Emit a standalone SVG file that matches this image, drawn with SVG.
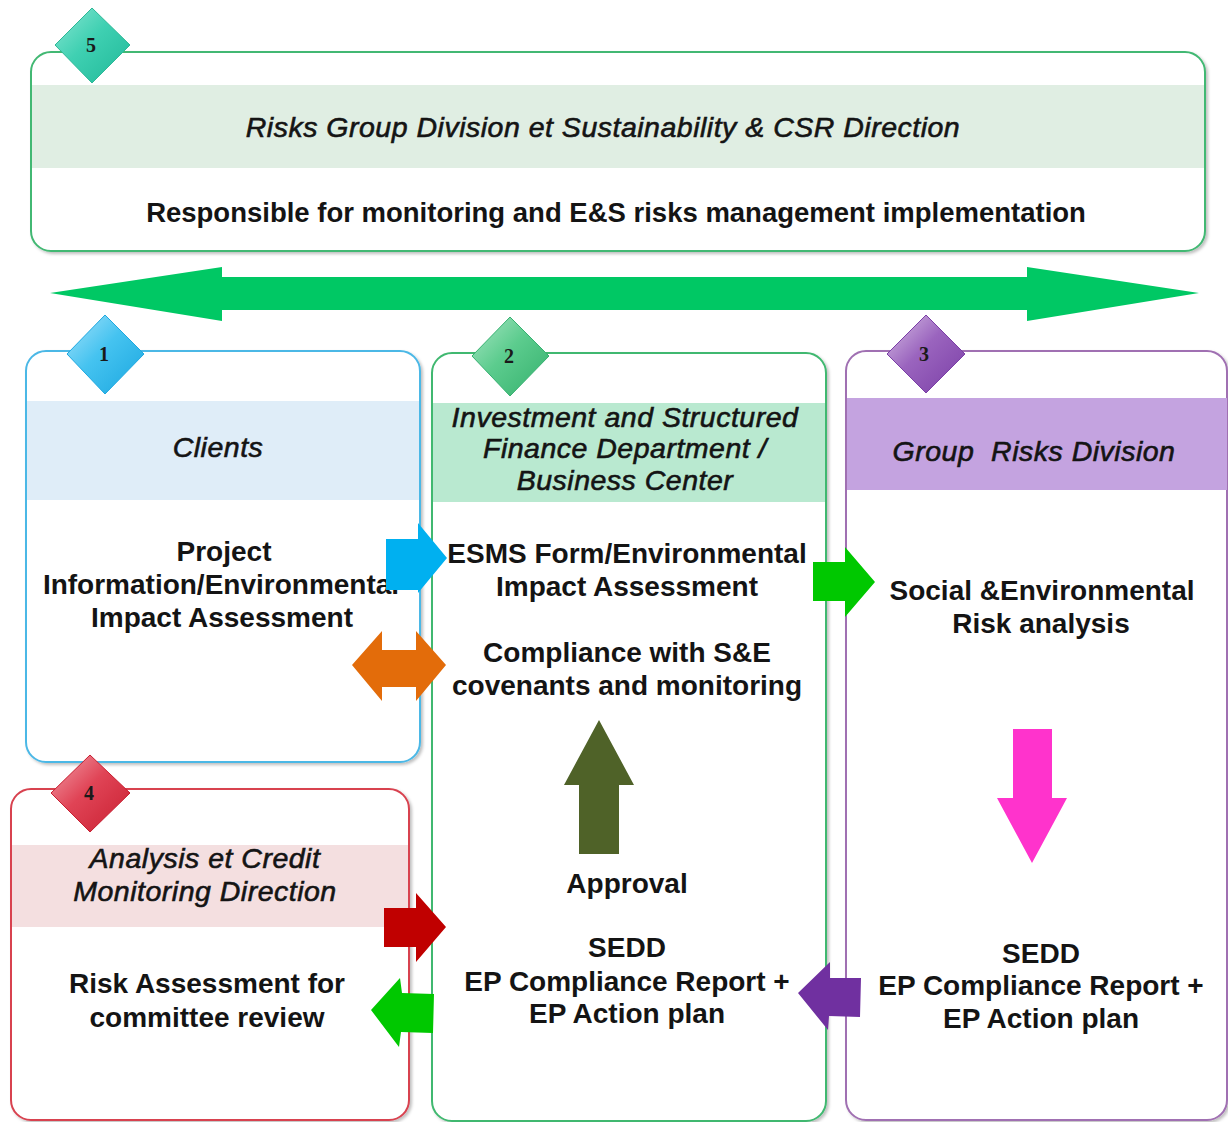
<svg xmlns="http://www.w3.org/2000/svg" width="1228" height="1122" viewBox="0 0 1228 1122">
<defs>
<style>
.box{fill:#fff;stroke-width:2;filter:url(#sh)}
.hd{font-family:"Liberation Sans",Arial,sans-serif;font-style:italic;font-size:28.5px;fill:#141414;stroke:#141414;stroke-width:0.6px;letter-spacing:0.5px;text-anchor:middle}
.bd{font-family:"Liberation Sans",Arial,sans-serif;font-weight:bold;font-size:28px;fill:#141414;text-anchor:middle}
.num{font-family:"Liberation Serif","Times New Roman",serif;font-weight:bold;font-size:20px;fill:#1a1a1a;text-anchor:middle}
.dm{stroke-width:1}
</style>
<filter id="sh" x="-5%" y="-5%" width="110%" height="110%">
<feDropShadow dx="2" dy="2" stdDeviation="1.5" flood-color="#000" flood-opacity="0.25"/>
</filter>
<linearGradient id="g5" x1="0" y1="0" x2="1" y2="1"><stop offset="0" stop-color="#8ae6d2"/><stop offset="0.45" stop-color="#3fd0b2"/><stop offset="1" stop-color="#1fb898"/></linearGradient>
<linearGradient id="g1" x1="0" y1="0" x2="1" y2="1"><stop offset="0" stop-color="#a6e2fa"/><stop offset="0.45" stop-color="#45c3f0"/><stop offset="1" stop-color="#1aa6df"/></linearGradient>
<linearGradient id="g2" x1="0" y1="0" x2="1" y2="1"><stop offset="0" stop-color="#a8e6c4"/><stop offset="0.45" stop-color="#5ccc8e"/><stop offset="1" stop-color="#34b06c"/></linearGradient>
<linearGradient id="g3" x1="0" y1="0" x2="1" y2="1"><stop offset="0" stop-color="#d9c2e6"/><stop offset="0.45" stop-color="#9a64be"/><stop offset="1" stop-color="#7a3ea6"/></linearGradient>
<linearGradient id="g4" x1="0" y1="0" x2="1" y2="1"><stop offset="0" stop-color="#f2a0aa"/><stop offset="0.45" stop-color="#e04456"/><stop offset="1" stop-color="#c81e30"/></linearGradient>
</defs>
<rect width="1228" height="1122" fill="#fff"/>

<g id="node5">
<rect class="box" x="31" y="52" width="1174" height="199" rx="20" stroke="#42b873"/>
<rect x="32" y="85" width="1172" height="83" fill="#e0eee3"/>
<text class="hd" x="603" y="137">Risks Group Division et Sustainability &amp; CSR Direction</text>
<text class="bd" x="616" y="222" style="font-size:27.5px">Responsible for monitoring and E&amp;S risks management implementation</text>
<polygon class="dm" points="92,8 130,45 92,83 55,45" fill="url(#g5)" stroke="#2cb896"/>
<text class="num" x="91" y="52">5</text>
</g>

<g id="node1">
<rect class="box" x="26" y="351" width="394" height="411" rx="20" stroke="#4cb8e6"/>
<rect x="27" y="401" width="392" height="99" fill="#dfedf8"/>
<text class="hd" x="218" y="457">Clients</text>
<text class="bd" x="224" y="561">Project</text>
<text class="bd" x="221" y="594">Information/Environmental</text>
<text class="bd" x="222" y="627">Impact Assessment</text>
<polygon class="dm" points="105,315 144,354 105,394 67,354" fill="url(#g1)" stroke="#1ea8e0"/>
<text class="num" x="104" y="361">1</text>
</g>

<g id="node2">
<rect class="box" x="432" y="353" width="394" height="768" rx="20" stroke="#40b870"/>
<rect x="433" y="403" width="392" height="99" fill="#b9e9d0"/>
<text class="hd" x="625" y="427">Investment and Structured</text>
<text class="hd" x="625" y="458">Finance Department /</text>
<text class="hd" x="625" y="490">Business Center</text>
<text class="bd" x="627" y="563">ESMS Form/Environmental</text>
<text class="bd" x="627" y="596">Impact Assessment</text>
<text class="bd" x="627" y="662">Compliance with S&amp;E</text>
<text class="bd" x="627" y="695">covenants and monitoring</text>
<text class="bd" x="627" y="893">Approval</text>
<text class="bd" x="627" y="957">SEDD</text>
<text class="bd" x="627" y="991">EP Compliance Report +</text>
<text class="bd" x="627" y="1023">EP Action plan</text>
<polygon class="dm" points="510,317 549,356 510,396 472,356" fill="url(#g2)" stroke="#36b070"/>
<text class="num" x="509" y="363">2</text>
</g>

<g id="node3">
<rect class="box" x="846" y="351" width="381" height="769" rx="20" stroke="#a070b2"/>
<rect x="847" y="398" width="380" height="92" fill="#c4a3e0"/>
<text class="hd" x="1034" y="461" xml:space="preserve">Group  Risks Division</text>
<text class="bd" x="1042" y="600">Social &amp;Environmental</text>
<text class="bd" x="1041" y="633">Risk analysis</text>
<text class="bd" x="1041" y="963">SEDD</text>
<text class="bd" x="1041" y="995">EP Compliance Report +</text>
<text class="bd" x="1041" y="1028">EP Action plan</text>
<polygon class="dm" points="926,315 965,354 926,393 887,354" fill="url(#g3)" stroke="#7a3ea6"/>
<text class="num" x="924" y="361">3</text>
</g>

<g id="node4">
<rect class="box" x="11" y="789" width="398" height="331" rx="20" stroke="#d84250"/>
<rect x="12" y="845" width="396" height="82" fill="#f4dfe0"/>
<text class="hd" x="205" y="868">Analysis et Credit</text>
<text class="hd" x="205" y="901">Monitoring Direction</text>
<text class="bd" x="207" y="993">Risk Assessment for</text>
<text class="bd" x="207" y="1027">committee review</text>
<polygon class="dm" points="90,755 130,793 90,832 51,793" fill="url(#g4)" stroke="#c81e30"/>
<text class="num" x="89" y="800">4</text>
</g>

<g id="connectors">
<polygon points="50,293 222,267 222,277 1027,277 1027,267 1199,293 1027,321 1027,310 222,310 222,321" fill="#00c864"/>
<polygon points="386,539 418,539 418,523 447,558 418,593 418,590 386,590" fill="#00b0f0"/>
<polygon points="352,665 382,631 382,650 416,650 416,631 446,665 416,701 416,687 382,687 382,701" fill="#e36c0a"/>
<polygon points="813,562 845,562 845,547 875,582 845,617 845,601 813,601" fill="#00c800"/>
<polygon points="599,720 634,785 619,785 619,854 579,854 579,785 564,785" fill="#4f6228"/>
<polygon points="1013,729 1052,729 1052,798 1067,798 1032,863 997,798 1013,798" fill="#ff33cc"/>
<polygon points="384,908 416,908 416,893 446,927 416,962 416,947 384,947" fill="#c00000"/>
<polygon points="371,1010 400,978 402,993 434,994 433,1033 401,1032 399,1047" fill="#00c800"/>
<polygon points="798,993 830,962 830,978 861,978 860,1017 829,1016 828,1030" fill="#7030a0"/>
</g>
</svg>
